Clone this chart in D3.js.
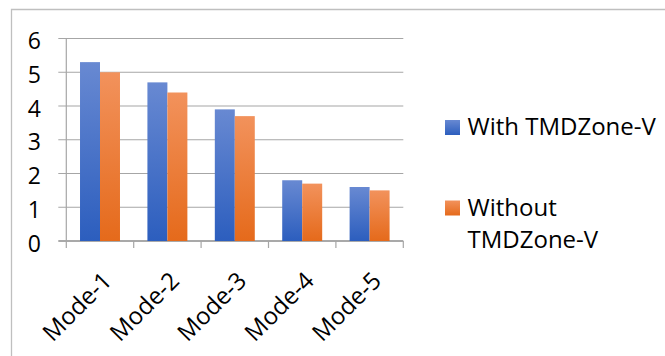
<!DOCTYPE html>
<html>
<head>
<meta charset="utf-8">
<script src="https://cdn.jsdelivr.net/npm/d3@7"></script>
<style>
  html, body { margin: 0; padding: 0; background: #fff; }
  svg { display: block; }
  text { font-family: "Open Sans", "Noto Sans", sans-serif; fill: #000; }
</style>
</head>
<body>
<svg id="chart" width="665" height="356"></svg>
<script>
// Chart data
const categories = ["Mode-1", "Mode-2", "Mode-3", "Mode-4", "Mode-5"];
const seriesNames = ["With TMDZone-V", "Without TMDZone-V"];
const withValues = [5.3, 4.7, 3.9, 1.8, 1.6];
const withoutValues = [5.0, 4.4, 3.7, 1.7, 1.5];
const yTicks = [0, 1, 2, 3, 4, 5, 6];

const series = [
  { name: seriesNames[0], values: withValues, grad: "gBlue" },
  { name: seriesNames[1], values: withoutValues, grad: "gOrange" }
];

const svg = d3.select("#chart");
const W = 665, H = 356;

// Gradients for bar fills (lighter at the top)
const defs = svg.append("defs");
function grad(id, top, bottom) {
  const g = defs.append("linearGradient").attr("id", id)
    .attr("x1", 0).attr("y1", 0).attr("x2", 0).attr("y2", 1);
  g.append("stop").attr("offset", "0%").attr("stop-color", top);
  g.append("stop").attr("offset", "100%").attr("stop-color", bottom);
}
grad("gBlue", "#6889d2", "#2c5ebe");
grad("gOrange", "#f2925c", "#e56a1b");

// Chart area frame (only top and left edges are visible)
svg.append("path")
  .attr("d", `M11.5,${H} V9.5 H${W}`)
  .attr("fill", "none").attr("stroke", "#bfbfbf").attr("stroke-width", 1.3);

// Scales
const plot = { left: 66.3, right: 403.3, top: 38.5, bottom: 241 };
const x0 = d3.scaleBand().domain(categories)
  .range([plot.left, plot.right]).paddingInner(0.407).paddingOuter(0.2035);
const x1 = d3.scaleBand().domain(seriesNames).range([0, x0.bandwidth()]);
const y = d3.scaleLinear().domain([0, 6]).range([plot.bottom, plot.top]);

// Horizontal gridlines
svg.append("g").selectAll("line").data(yTicks).join("line")
  .attr("x1", plot.left - 8).attr("x2", plot.right)
  .attr("y1", d => y(d)).attr("y2", d => y(d))
  .attr("stroke", d => d === 0 ? "#8c8c8c" : "#a6a6a6")
  .attr("stroke-width", d => d === 0 ? 1.5 : 1.2);

// Vertical axis line
svg.append("line")
  .attr("x1", plot.left).attr("x2", plot.left)
  .attr("y1", y(6)).attr("y2", y(0))
  .attr("stroke", "#a6a6a6").attr("stroke-width", 1.2);

// Category boundary ticks below the baseline
const boundaries = categories.map(c => x0(c) - x0.step() * x0.paddingOuter());
boundaries.push(plot.right);
svg.append("g").selectAll("line").data(boundaries).join("line")
  .attr("x1", d => d).attr("x2", d => d)
  .attr("y1", y(0)).attr("y2", y(0) + 7)
  .attr("stroke", "#a6a6a6").attr("stroke-width", 1.2);

// Y tick labels
svg.append("g").selectAll("text").data(yTicks).join("text")
  .attr("x", 41).attr("y", d => y(d) + 1.5)
  .attr("text-anchor", "end").attr("dominant-baseline", "central")
  .style("font-size", "23px")
  .text(d => d);

// Bars
const groups = svg.append("g").selectAll("g").data(categories).join("g")
  .attr("transform", c => `translate(${x0(c)},0)`);
groups.selectAll("rect")
  .data((c, i) => series.map(s => ({ name: s.name, value: s.values[i], grad: s.grad })))
  .join("rect")
  .attr("x", d => x1(d.name))
  .attr("width", x1.bandwidth())
  .attr("y", d => y(d.value))
  .attr("height", d => y(0) - y(d.value))
  .attr("fill", d => `url(#${d.grad})`);

// Rotated category labels
svg.append("g").selectAll("text").data(categories).join("text")
  .attr("transform", c => `translate(${x0(c) + x0.bandwidth() / 2 + 1},270) rotate(-45)`)
  .attr("text-anchor", "end")
  .attr("dy", "0.72em")
  .style("font-size", "24px")
  .text(c => c);

// Legend
const legend = svg.append("g");
const legendItems = [
  { grad: "gBlue", lines: ["With TMDZone-V"], y: 135 },
  { grad: "gOrange", lines: ["Without", "TMDZone-V"], y: 215.5 }
];
legendItems.forEach(item => {
  legend.append("rect")
    .attr("x", 445).attr("y", item.y - 15).attr("width", 15).attr("height", 15)
    .attr("fill", `url(#${item.grad})`);
  const t = legend.append("text").attr("x", 467.5).attr("y", item.y)
    .style("font-size", "24px");
  item.lines.forEach((ln, i) => {
    t.append("tspan").attr("x", 467.5).attr("dy", i === 0 ? 0 : 32.5).text(ln);
  });
});
</script>
</body>
</html>
